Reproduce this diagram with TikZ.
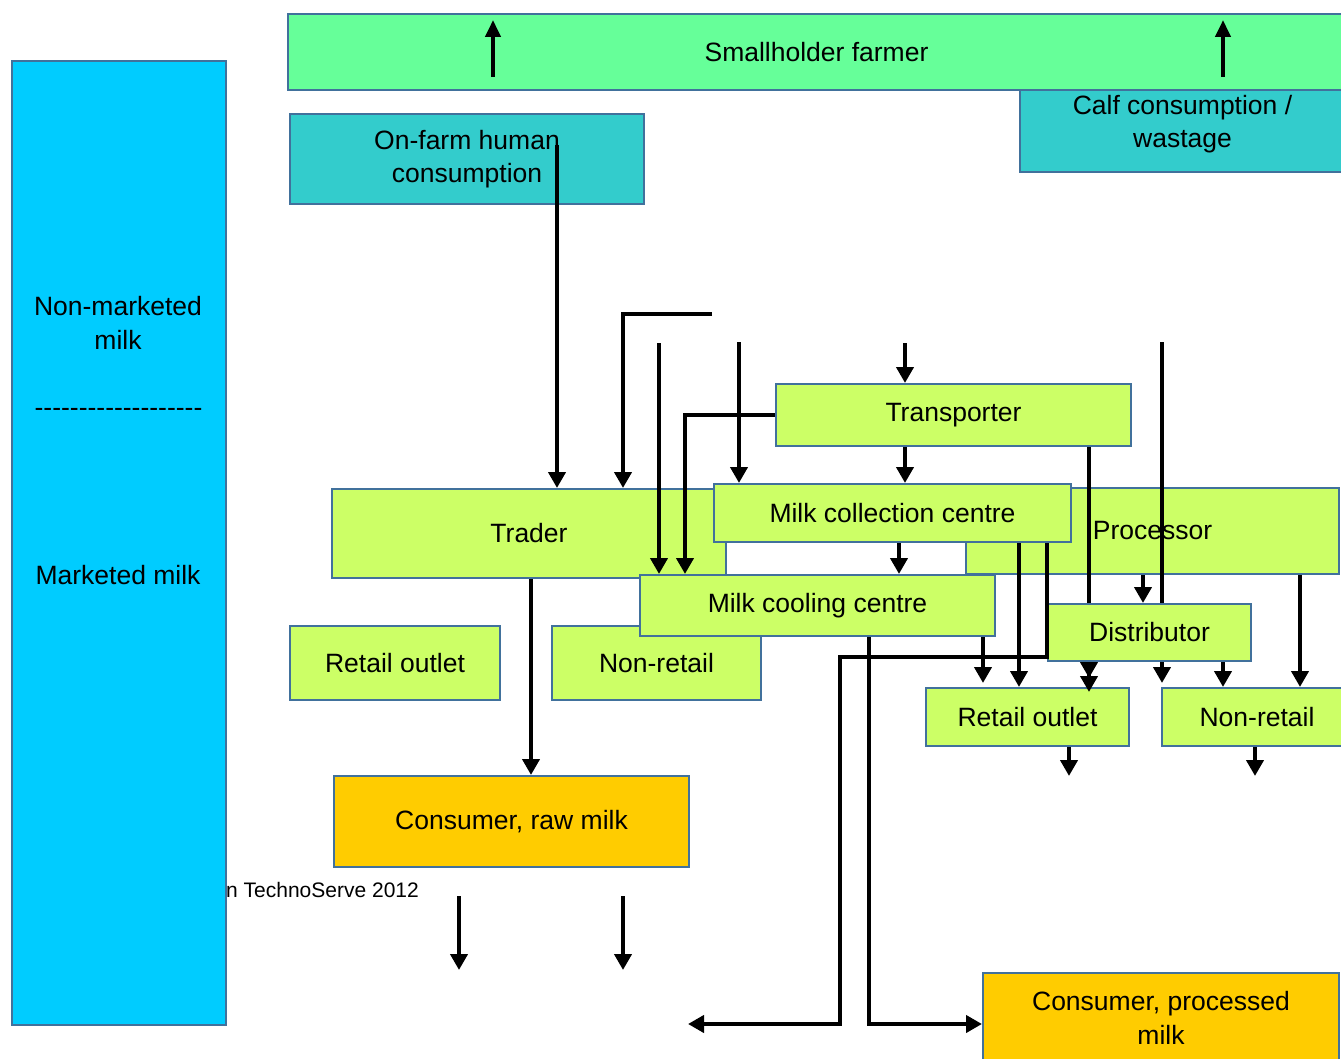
\documentclass[tikz,border=0pt]{standalone}
\usepackage{fontspec}
\setmainfont{Liberation Sans}
\newfontfamily\nolig{Liberation Sans}[Ligatures=TeXOff]
\usetikzlibrary{arrows.meta}
\definecolor{edge}{RGB}{65,113,156}
\definecolor{sideblue}{HTML}{00CCFF}
\definecolor{farmgreen}{HTML}{66FF99}
\definecolor{tealbox}{HTML}{33CCCC}
\definecolor{lime}{HTML}{CCFF66}
\definecolor{amber}{HTML}{FFCC00}
\begin{document}
\begin{tikzpicture}[x=1pt,y=-1pt,
  cell/.style={draw=edge, line width=2pt, inner sep=0pt, anchor=north west,
    align=center, font=\fontsize{26.5}{33.5}\selectfont},
  label/.style={inner sep=0pt, align=center, font=\fontsize{26.5}{33.5}\selectfont},
  flow/.style={line width=4.2pt, -{Triangle[length=16pt,width=17pt]}},
  upflow/.style={line width=4pt, -{Triangle[length=17pt,width=15pt]}},
  link/.style={line width=4.2pt},
]
\useasboundingbox (0,0) rectangle (1341,1059);

% left-hand column
\node[inner sep=0pt, anchor=west, font=\fontsize{21}{25}\selectfont] (src) at (226,890) {n TechnoServe 2012};
\node[cell, fill=sideblue, minimum width=214pt, minimum height=964pt] (side) at (11,60) {};
\node[label] (nonmkt) at (118,323) {Non-marketed\\milk};
\node[label, font=\fontsize{26.5}{33.5}\nolig] (divider) at (118.5,412) {-------------------};
\node[label] (mkt) at (118,575) {Marketed milk};

% farm level
\node[cell, fill=tealbox, minimum width=325pt, minimum height=96pt] (calf) at (1019,75)
  {Calf consumption /\\wastage};
\node[cell, fill=farmgreen, minimum width=1057pt, minimum height=76pt] (farmer) at (287,13)
  {Smallholder farmer};
\node[cell, fill=tealbox, minimum width=354pt, minimum height=90pt] (onfarm) at (289,113)
  {On-farm human\\consumption};

% market actors
\node[cell, fill=lime, minimum width=394pt, minimum height=89pt] (trader) at (331,488) {Trader};
\node[cell, fill=lime, minimum width=373pt, minimum height=86pt] (processor) at (965,487) {Processor};
\node[cell, fill=lime, minimum width=210pt, minimum height=74pt] (retailL) at (289,625) {Retail outlet};
\node[cell, fill=lime, minimum width=209pt, minimum height=74pt] (nonretL) at (551,625) {Non-retail};
\node[cell, fill=lime, minimum width=357pt, minimum height=58pt] (collect) at (713,483) {Milk collection centre};
\node[cell, fill=lime, minimum width=355pt, minimum height=61pt] (cooling) at (639,574) {Milk cooling centre};
\node[cell, fill=lime, minimum width=355pt, minimum height=62pt] (transp) at (775,383) {Transporter};
\node[cell, fill=lime, minimum width=203pt, minimum height=57pt] (distrib) at (1047,603) {Distributor};
\node[cell, fill=lime, minimum width=203pt, minimum height=58pt] (retailR) at (925,687) {Retail outlet};
\node[cell, fill=lime, minimum width=190pt, minimum height=58pt] (nonretR) at (1161,687) {Non-retail};

% consumers
\node[cell, fill=amber, minimum width=355pt, minimum height=91pt] (rawcons) at (333,775) {Consumer, raw milk};
\node[cell, fill=amber, minimum width=356pt, minimum height=90pt] (proccons) at (982,972)
  {Consumer, processed\\milk};

% free ends and bends of the flows
\coordinate (u1a) at (493,77);  \coordinate (u1b) at (493,20);
\coordinate (u2a) at (1223,77); \coordinate (u2b) at (1223,20);
\coordinate (h1) at (557,145);
\coordinate (t1) at (712,314);  \coordinate (t2) at (623,314);
\coordinate (c1) at (659,343);  \coordinate (c2) at (739,342);
\coordinate (c3) at (905,343);
\coordinate (k1) at (685,0);    \coordinate (k2) at (899,0);
\coordinate (k3) at (1089,0);   \coordinate (k4) at (1162,342);
\coordinate (k5) at (1143,0);   \coordinate (k6) at (1300,0);
\coordinate (k7) at (1223,0);   \coordinate (k8) at (1019,0);
\coordinate (k9) at (1047,0);   \coordinate (k10) at (840,657);
\coordinate (k11) at (983,0);   \coordinate (k12) at (869,1024);
\coordinate (k13) at (531,0);
\coordinate (e1) at (688,1024);
\coordinate (e2) at (1069,776); \coordinate (e3) at (1255,776);
\coordinate (e4a) at (459,896); \coordinate (e4b) at (459,970);
\coordinate (e5a) at (623,896); \coordinate (e5b) at (623,970);

% flows
\draw[upflow] (u1a) -- (u1b);
\draw[upflow] (u2a) -- (u2b);
\draw[flow] (h1) -- (h1 |- trader.north);
\draw[flow] (t1) -- (t2) -- (t2 |- trader.north);
\draw[flow] (c1) -- (c1 |- cooling.north);
\draw[flow] (c2) -- (c2 |- collect.north);
\draw[flow] (c3) -- (c3 |- transp.north);
\draw[flow] (transp.west) -- (transp.west -| k1) -- (k1 |- cooling.north);
\draw[flow] (c3 |- transp.south) -- (c3 |- collect.north);
\draw[flow] (k2 |- collect.south) -- (k2 |- cooling.north);
\draw[link] (k3 |- transp.south) -- (k3 |- distrib.north);
\draw[flow, shorten >=9pt] (k3 |- distrib.south) -- (k3 |- retailR.north);
\draw[flow, shorten >=-5pt] (k3 |- distrib.south) -- (k3 |- retailR.north);
\draw[link] (k4) -- (k4 |- distrib.north);
\draw[flow, shorten >=4pt] (k4 |- distrib.south) -- (k4 |- retailR.north);
\draw[flow] (k5 |- processor.south) -- (k5 |- distrib.north);
\draw[flow] (k6 |- processor.south) -- (k6 |- nonretR.north);
\draw[flow] (k7 |- distrib.south) -- (k7 |- nonretR.north);
\draw[flow] (k8 |- collect.south) -- (k8 |- retailR.north);
\draw[flow] (k9 |- collect.south) -- (k9 |- k10) -- (k10) -- (k10 |- e1) -- (e1);
\draw[flow, shorten >=4pt] (k11 |- cooling.south) -- (k11 |- retailR.north);
\draw[flow] (k12 |- cooling.south) -- (k12) -- (proccons.west |- k12);
\draw[flow] (k13 |- trader.south) -- (k13 |- rawcons.north);
\draw[flow] (e2 |- retailR.south) -- (e2);
\draw[flow] (e3 |- nonretR.south) -- (e3);
\draw[flow] (e4a) -- (e4b);
\draw[flow] (e5a) -- (e5b);
\end{tikzpicture}
\end{document}
